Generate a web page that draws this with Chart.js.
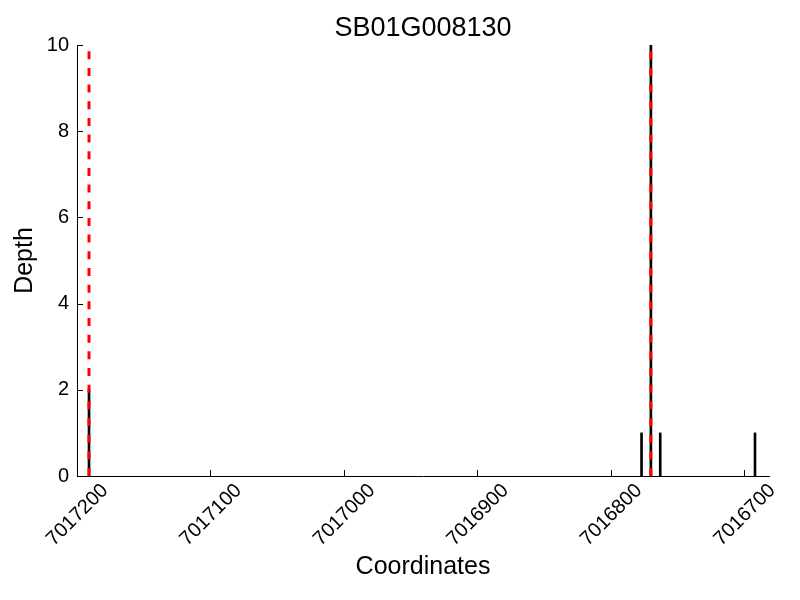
<!DOCTYPE html>
<html>
<head>
<meta charset="utf-8">
<script src="https://cdn.jsdelivr.net/npm/chart.js@4/dist/chart.umd.min.js"></script>
<style>
  body { margin: 0; background: #fff; }
  #wrap { width: 800px; height: 600px; }
</style>
</head>
<body>
<div id="wrap"><canvas id="depthChart" width="800" height="600"></canvas></div>
<script>
// Read depth values
const positions = [7017191, 7016777, 7016770, 7016763, 7016692];
const depths = [2, 1, 10, 1, 1];

// Red dashed markers
const markerPositions = [7017191, 7016770];

// Axis ticks / limits
const xTicks = [7017200, 7017100, 7017000, 7016900, 7016800, 7016700];
const yTicks = [0, 2, 4, 6, 8, 10];
const xLimits = [7016681.5, 7017200];
const yLimits = [0, 10];

Chart.defaults.font.family = '"Liberation Sans", Arial, Helvetica, sans-serif';
Chart.defaults.color = '#000';

// matplotlib style ticks pointing into the plot
const inwardTicks = {
    id: 'inwardTicks',
    afterDatasetsDraw(chart) {
        const { ctx, chartArea, scales } = chart;
        ctx.save();
        ctx.strokeStyle = '#000';
        ctx.lineWidth = 1;
        ctx.beginPath();
        xTicks.forEach(v => {
            const px = Math.round(scales.x.getPixelForValue(v)) + 0.5;
            ctx.moveTo(px, chartArea.bottom);
            ctx.lineTo(px, chartArea.bottom - 6);
        });
        yTicks.forEach(v => {
            const py = Math.round(scales.y.getPixelForValue(v)) + 0.5;
            ctx.moveTo(chartArea.left, py);
            ctx.lineTo(chartArea.left + 6, py);
        });
        ctx.stroke();
        ctx.restore();
    }
};

const markerDatasets = markerPositions.map(x => ({
    type: 'line',
    data: [{ x: x, y: yLimits[0] }, { x: x, y: yLimits[1] }],
    borderColor: '#ff0000',
    borderWidth: 3,
    borderDash: [8, 8.67],
    pointRadius: 0,
    fill: false,
    order: 0
}));

const ctx = document.getElementById('depthChart').getContext('2d');

new Chart(ctx, {
    type: 'bar',
    data: {
        datasets: [
            {
                type: 'bar',
                data: positions.map((p, i) => ({ x: p, y: depths[i] })),
                backgroundColor: '#000',
                borderWidth: 0,
                barThickness: 2,
                order: 1
            },
            ...markerDatasets
        ]
    },
    options: {
        responsive: false,
        animation: false,
        layout: {
            padding: { left: 0, right: 31, top: 0, bottom: 0 }
        },
        plugins: {
            legend: { display: false },
            tooltip: { enabled: false },
            title: {
                display: true,
                text: 'SB01G008130',
                fullSize: false,
                color: '#000',
                font: { size: 27, weight: 'normal', lineHeight: 1.2 },
                padding: { top: 12.6, bottom: 0 }
            }
        },
        scales: {
            x: {
                type: 'linear',
                reverse: true,
                offset: false,
                min: xLimits[0],
                max: xLimits[1],
                grid: { display: false, drawTicks: false },
                border: { display: true, color: '#000', width: 1 },
                afterBuildTicks: scale => {
                    scale.ticks = xTicks.map(v => ({ value: v }));
                },
                afterFit: scale => { scale.height = 124; },
                ticks: {
                    autoSkip: false,
                    minRotation: 45,
                    maxRotation: 45,
                    labelOffset: 28,
                    padding: 3,
                    color: '#000',
                    font: { size: 20 },
                    callback: v => String(v)
                },
                title: {
                    display: true,
                    text: 'Coordinates',
                    color: '#000',
                    font: { size: 25 },
                    padding: { top: 0, bottom: 18 }
                }
            },
            y: {
                min: yLimits[0],
                max: yLimits[1],
                grid: { display: false, drawTicks: false },
                border: { display: true, color: '#000', width: 1 },
                afterBuildTicks: scale => {
                    scale.ticks = yTicks.map(v => ({ value: v }));
                },
                afterFit: scale => { scale.width = 77; },
                ticks: {
                    padding: 8,
                    color: '#000',
                    font: { size: 20 }
                },
                title: {
                    display: true,
                    text: 'Depth',
                    color: '#000',
                    font: { size: 25 },
                    padding: { top: 10, bottom: 0 }
                }
            }
        }
    },
    plugins: [inwardTicks]
});
</script>
</body>
</html>
